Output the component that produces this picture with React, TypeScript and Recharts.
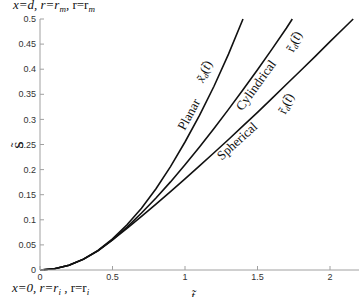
import React from 'react';
import { LineChart, Line, XAxis, YAxis } from 'recharts';

const xTicks = [0, 0.5, 1, 1.5, 2];
const yTicks = [0, 0.05, 0.1, 0.15, 0.2, 0.25, 0.3, 0.35, 0.4, 0.45, 0.5];

const planarX = [0, 0.1, 0.2, 0.3, 0.4, 0.5, 0.6, 0.7, 0.8, 0.9, 1.0, 1.1, 1.2, 1.3, 1.4];
const planarY = [0, 0.0024, 0.0096, 0.0216, 0.039, 0.062, 0.09, 0.123, 0.162, 0.206, 0.255, 0.308, 0.366, 0.43, 0.5];

const cylX = [0, 0.1, 0.2, 0.3, 0.4, 0.5, 0.6, 0.7, 0.8, 0.9, 1.0, 1.1, 1.2, 1.3, 1.4, 1.5, 1.6, 1.7, 1.74];
const cylY = [0, 0.0024, 0.0096, 0.0216, 0.0385, 0.06, 0.0855, 0.1135, 0.1435, 0.1755, 0.2095, 0.245, 0.282, 0.32, 0.359, 0.399, 0.44, 0.482, 0.5];

const sphX = [0, 0.1, 0.2, 0.3, 0.4, 0.5, 0.6, 0.7, 0.8, 0.9, 1.0, 1.1, 1.2, 1.3, 1.4, 1.5, 1.6, 1.7, 1.8, 1.9, 2.0, 2.1, 2.16];
const sphY = [0, 0.0024, 0.0096, 0.0216, 0.038, 0.06, 0.083, 0.1068, 0.1312, 0.1562, 0.1816, 0.2074, 0.2336, 0.26, 0.287, 0.314, 0.342, 0.37, 0.398, 0.426, 0.455, 0.483, 0.5];

const toData = (xs: number[], ys: number[]) => xs.map((x, i) => ({ x, y: ys[i] }));
const planarData = toData(planarX, planarY);
const cylData = toData(cylX, cylY);
const sphData = toData(sphX, sphY);

const axisColor = '#a0a0a0';
const tickFont = { fontSize: 9, fill: '#333', fontFamily: 'Liberation Sans, Arial, sans-serif' };
const serif = 'Liberation Serif, Times New Roman, DejaVu Serif, serif';

const NoTick = () => <g />;

const Ann = ({ x, y, angle, children }: any) => (
  <text x={x} y={y} transform={`rotate(${angle} ${x} ${y})`} textAnchor="middle" dominantBaseline="middle"
    fontFamily={serif} fontSize={13} fill="#111">{children}</text>
);

export default function App() {
  return (
    <div style={{ position: 'absolute', left: 0, top: 0, width: 362, height: 297, background: '#fff' }}>
      <LineChart width={362} height={297} margin={{ top: 19, right: 3, bottom: 0, left: 0 }}>
        <XAxis xAxisId="b" dataKey="x" type="number" domain={[0, 2.2]} ticks={xTicks} allowDataOverflow
          height={27} stroke={axisColor} tickSize={-4} tickMargin={8} tick={tickFont} interval={0} />
        <XAxis xAxisId="t" orientation="top" dataKey="x" type="number" domain={[0, 2.2]} ticks={xTicks}
          height={0} stroke={axisColor} tickSize={-4} tick={NoTick} interval={0} />
        <YAxis yAxisId="l" type="number" domain={[0, 0.5]} ticks={yTicks} width={40} stroke={axisColor}
          tickSize={-4} tickMargin={8} tick={tickFont} interval={0} />
        <YAxis yAxisId="r" orientation="right" type="number" domain={[0, 0.5]} ticks={yTicks} width={0}
          stroke={axisColor} tickSize={-4} tick={NoTick} interval={0} />
        <Line xAxisId="b" yAxisId="l" data={planarData} dataKey="y" stroke="#111" strokeWidth={1.6} dot={false} isAnimationActive={false} />
        <Line xAxisId="b" yAxisId="l" data={cylData} dataKey="y" stroke="#111" strokeWidth={1.6} dot={false} isAnimationActive={false} />
        <Line xAxisId="b" yAxisId="l" data={sphData} dataKey="y" stroke="#111" strokeWidth={1.6} dot={false} isAnimationActive={false} />
      </LineChart>
      <svg width={362} height={297} style={{ position: 'absolute', left: 0, top: 0, pointerEvents: 'none' }}>
        <text x={13} y={9} fontFamily={serif} fontSize={13} fontStyle="italic" fill="#111">
          x=d, r=r<tspan fontSize={9} dy={3}>m</tspan><tspan dy={-3}>, </tspan><tspan fontStyle="normal">r=r</tspan><tspan fontSize={9} dy={3}>m</tspan>
        </text>
        <text x={12} y={292} fontFamily={serif} fontSize={13} fontStyle="italic" fill="#111">
          x=0, r=r<tspan fontSize={9} dy={3}>i</tspan><tspan dy={-3}> , </tspan><tspan fontStyle="normal">r=r</tspan><tspan fontSize={9} dy={3}>i</tspan>
        </text>
        <text x={193} y={300} textAnchor="middle" fontFamily={serif} fontSize={13} fontStyle="italic" fill="#111">t̃</text>
        <text x={20} y={145} transform="rotate(-90 20 145)" textAnchor="middle" dominantBaseline="middle" fontFamily={serif} fontSize={13} fill="#111">S̃</text>
        <Ann x={190} y={115} angle={-62}>Planar</Ann>
        <Ann x={205} y={72} angle={-66}><tspan fontStyle="italic">x̃</tspan><tspan fontSize={8} dy={3} fontStyle="italic">d</tspan><tspan dy={-3}>(</tspan><tspan fontStyle="italic">t̃</tspan>)</Ann>
        <Ann x={257} y={86} angle={-54}>Cylindrical</Ann>
        <Ann x={295} y={42} angle={-66}><tspan>r̃</tspan><tspan fontSize={8} dy={3} fontStyle="italic">d</tspan><tspan dy={-3}>(</tspan><tspan fontStyle="italic">t̃</tspan>)</Ann>
        <Ann x={238} y={142} angle={-42}>Spherical</Ann>
        <Ann x={287} y={104} angle={-66}><tspan>r̃</tspan><tspan fontSize={8} dy={3} fontStyle="italic">d</tspan><tspan dy={-3}>(</tspan><tspan fontStyle="italic">t̃</tspan>)</Ann>
      </svg>
    </div>
  );
}
